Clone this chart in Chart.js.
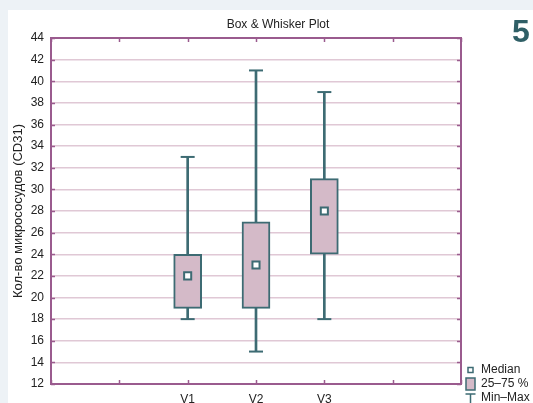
<!DOCTYPE html>
<html>
<head>
<meta charset="utf-8">
<script src="https://cdn.jsdelivr.net/npm/chart.js@4/dist/chart.umd.min.js"></script>
<style>
  html, body { margin: 0; padding: 0; background: #edf2f6; }
  #wrap { position: relative; width: 533px; height: 403px; overflow: hidden; }
  canvas { display: block; }
</style>
</head>
<body>
<div id="wrap"><canvas id="c" width="533" height="403"></canvas></div>
<script>
// Category slots along the x axis (outer slots are empty spacing)
const categories = ['', '', 'V1', 'V2', 'V3', '', ''];
// Box & whisker statistics per slot (null = empty slot)
const mins    = [null, null, 18, 15, 18, null, null];
const q1s     = [null, null, 19, 19, 24, null, null];
const medians = [null, null, 22, 23, 28, null, null];
const q3s     = [null, null, 24, 27, 31, null, null];
const maxs    = [null, null, 33, 41, 39, null, null];
// Y axis ticks
const yMin = 12, yMax = 44, yStep = 2;

const TEAL = '#3d6b73';
const BOX_FILL = '#d4bac8';
const FRAME = '#9a5b8e';
const GRID = '#e0c8d5';
const FONT = '"Liberation Sans", Arial, sans-serif';
const TXT = '#222222';

const boxes = q1s.map((q, i) => (q === null ? null : [q, q3s[i]]));
const whiskers = mins.map((m, i) => (m === null ? null : [m, maxs[i]]));

// Page backdrop, frame, inward tick marks, title, badge and legend
const decor = {
  id: 'decor',
  beforeDraw(chart) {
    const ctx = chart.ctx;
    ctx.save();
    ctx.fillStyle = '#edf2f6';
    ctx.fillRect(0, 0, chart.width, chart.height);
    ctx.fillStyle = '#ffffff';
    ctx.fillRect(8, 10, chart.width - 8, chart.height - 10);
    ctx.restore();
  },
  afterDraw(chart) {
    const ctx = chart.ctx;
    const a = chart.chartArea;
    const xs = chart.scales.x, ys = chart.scales.y;
    ctx.save();
    ctx.strokeStyle = FRAME;
    ctx.lineWidth = 1.5;
    // inward ticks
    ctx.beginPath();
    xs.ticks.forEach((t, i) => {
      const px = Math.round(xs.getPixelForTick(i)) + 0.5;
      ctx.moveTo(px, a.bottom); ctx.lineTo(px, a.bottom - 4);
      ctx.moveTo(px, a.top); ctx.lineTo(px, a.top + 4);
    });
    ys.ticks.forEach((t) => {
      const py = Math.round(ys.getPixelForValue(t.value)) + 0.5;
      ctx.moveTo(a.left, py); ctx.lineTo(a.left + 4, py);
      ctx.moveTo(a.right, py); ctx.lineTo(a.right - 4, py);
    });
    ctx.stroke();
    // frame
    ctx.lineWidth = 2;
    ctx.strokeRect(a.left, a.top, a.right - a.left, a.bottom - a.top);

    // title
    ctx.fillStyle = TXT;
    ctx.font = '12px ' + FONT;
    ctx.textAlign = 'center';
    ctx.textBaseline = 'middle';
    ctx.fillText('Box & Whisker Plot', 278, 25);

    // badge
    ctx.fillStyle = '#2f5f66';
    ctx.font = 'bold 32px ' + FONT;
    ctx.textAlign = 'left';
    ctx.textBaseline = 'alphabetic';
    ctx.fillText('5', 512, 42);

    // legend
    ctx.font = '12px ' + FONT;
    ctx.fillStyle = TXT;
    ctx.textBaseline = 'middle';
    ctx.fillText('Median', 481, 370);
    ctx.fillText('25\u201375 %', 481, 384);
    ctx.fillText('Min\u2013Max', 481, 398);

    ctx.strokeStyle = TEAL;
    ctx.lineWidth = 1.5;
    ctx.fillStyle = '#ffffff';
    ctx.fillRect(468, 367.5, 5, 5);
    ctx.strokeRect(468, 367.5, 5, 5);

    ctx.fillStyle = BOX_FILL;
    ctx.fillRect(466, 378, 9, 12);
    ctx.strokeRect(466, 378, 9, 12);

    ctx.beginPath();
    ctx.moveTo(465.5, 394); ctx.lineTo(475.5, 394);
    ctx.moveTo(470.5, 394); ctx.lineTo(470.5, 404);
    ctx.stroke();
    ctx.restore();
  }
};

new Chart(document.getElementById('c'), {
  type: 'bar',
  data: {
    labels: categories,
    datasets: [
      {
        label: 'Min\u2013Max',
        data: whiskers,
        backgroundColor: TEAL,
        borderWidth: 0,
        barThickness: 2,
        grouped: false,
        order: 3
      },
      {
        label: '25\u201375 %',
        data: boxes,
        backgroundColor: BOX_FILL,
        borderColor: TEAL,
        borderWidth: 2,
        borderSkipped: false,
        barThickness: 28,
        grouped: false,
        order: 2
      },
      {
        type: 'line',
        label: 'Max',
        data: maxs,
        showLine: false,
        pointStyle: 'line',
        pointRadius: 7,
        pointBorderWidth: 2,
        pointBorderColor: TEAL,
        order: 1
      },
      {
        type: 'line',
        label: 'Min',
        data: mins,
        showLine: false,
        pointStyle: 'line',
        pointRadius: 7,
        pointBorderWidth: 2,
        pointBorderColor: TEAL,
        order: 1
      },
      {
        type: 'line',
        label: 'Median',
        data: medians,
        showLine: false,
        pointStyle: 'rect',
        pointRadius: 5,
        pointBorderWidth: 2,
        pointBorderColor: TEAL,
        pointBackgroundColor: '#ffffff',
        order: 0
      }
    ]
  },
  options: {
    responsive: false,
    animation: false,
    layout: { padding: { top: 38, right: 72, bottom: 0, left: 0 } },
    plugins: {
      legend: { display: false },
      tooltip: { enabled: false },
      title: { display: false }
    },
    scales: {
      x: {
        type: 'category',
        offset: false,
        grid: { display: false, drawTicks: false },
        border: { display: false },
        ticks: {
          autoSkip: false,
          maxRotation: 0,
          padding: 8,
          color: TXT,
          font: { family: FONT, size: 12 }
        },
        afterFit(scale) { scale.height = 19; }
      },
      y: {
        min: yMin,
        max: yMax,
        grid: { color: GRID, lineWidth: 1.5, drawTicks: false },
        border: { display: false },
        ticks: {
          stepSize: yStep,
          padding: 7,
          color: TXT,
          font: { family: FONT, size: 12 }
        },
        title: {
          display: true,
          text: 'Кол-во микрососудов (CD31)',
          color: TXT,
          font: { family: FONT, size: 13 },
          padding: { top: 11, bottom: 0 }
        },
        afterFit(scale) { scale.width = 51; }
      }
    }
  },
  plugins: [decor]
});
</script>
</body>
</html>
